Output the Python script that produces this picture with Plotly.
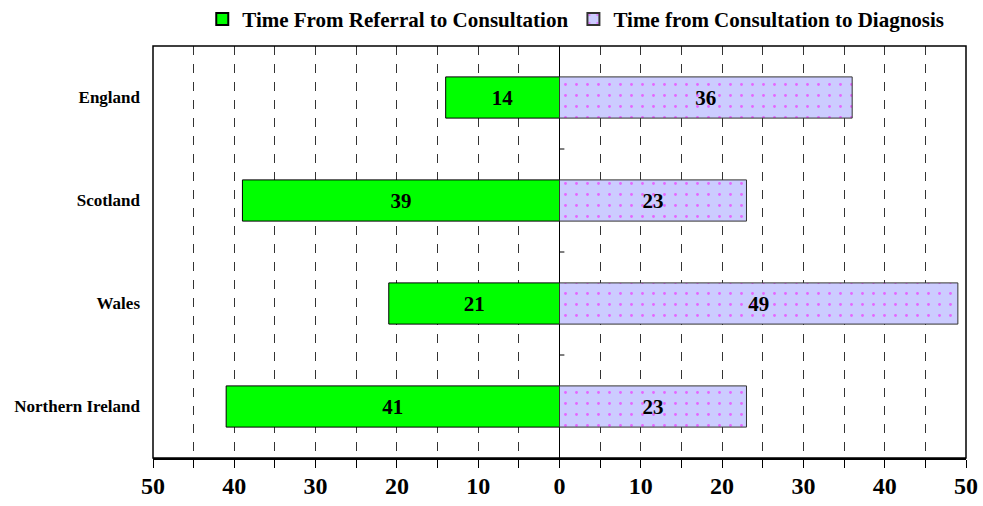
import plotly.graph_objects as go

countries = ["England", "Scotland", "Wales", "Northern Ireland"]
referral_to_consult = [14, 39, 21, 41]
consult_to_diagnosis = [36, 23, 49, 23]
tick_vals = [-50, -40, -30, -20, -10, 0, 10, 20, 30, 40, 50]
tick_text = ["50", "40", "30", "20", "10", "0", "10", "20", "30", "40", "50"]

serif = "Liberation Serif, Times New Roman, serif"

fig = go.Figure()

fig.add_trace(
    go.Bar(
        y=countries,
        x=[-v for v in referral_to_consult],
        name="Time From Referral to Consultation",
        orientation="h",
        marker={"color": "#00FF00", "line": {"color": "black", "width": 1}},
        text=[str(v) for v in referral_to_consult],
        textposition="inside",
        insidetextanchor="middle",
        textfont={"family": serif, "size": 21, "color": "black", "weight": "bold"},
        width=0.4,
    )
)

fig.add_trace(
    go.Bar(
        y=countries,
        x=consult_to_diagnosis,
        name="Time from Consultation to Diagnosis",
        orientation="h",
        marker={
            "color": "#CCCCFF",
            "line": {"color": "#333333", "width": 1},
            "pattern": {"shape": ".", "fgcolor": "#FF00FF", "bgcolor": "#CCCCFF",
                        "size": 11, "solidity": 0.05, "fillmode": "overlay"},
        },
        text=[str(v) for v in consult_to_diagnosis],
        textposition="inside",
        insidetextanchor="middle",
        textfont={"family": serif, "size": 21, "color": "black", "weight": "bold"},
        width=0.4,
    )
)

# small category separators on the zero line
for i in range(len(countries) - 1):
    fig.add_shape(type="line", xref="x", yref="y", x0=0, x1=0.6,
                  y0=i + 0.5, y1=i + 0.5, line={"color": "black", "width": 1})

# plot frame
fig.add_shape(type="rect", xref="paper", yref="paper", x0=0, x1=1, y0=0, y1=1,
              line={"color": "black", "width": 1.5}, layer="above")

fig.update_layout(
    width=983, height=506,
    barmode="relative",
    plot_bgcolor="white",
    paper_bgcolor="white",
    margin={"l": 153, "r": 17, "t": 46, "b": 48, "autoexpand": False},
    font={"family": serif, "color": "black"},
    showlegend=True,
    legend={
        "orientation": "h", "x": 0.52, "xanchor": "center", "y": 1.015, "yanchor": "bottom",
        "font": {"family": serif, "size": 21, "weight": "bold"},
        "bgcolor": "rgba(0,0,0,0)",
        "itemwidth": 30, "itemsizing": "constant", "tracegroupgap": 0,
    },
    xaxis={
        "range": [-50, 50],
        "tickvals": tick_vals,
        "ticktext": tick_text,
        "tickfont": {"family": serif, "size": 24, "weight": "bold"},
        "showgrid": True,
        "gridcolor": "#333333",
        "griddash": "dash",
        "gridwidth": 1,
        "ticks": "outside",
        "ticklen": 8,
        "tickcolor": "black",
        "ticklabelstandoff": -3,
        "minor": {"dtick": 5, "showgrid": True, "gridcolor": "#333333", "griddash": "dash",
                  "ticks": "outside", "ticklen": 8, "tickcolor": "black"},
        "zeroline": True,
        "zerolinecolor": "black",
        "zerolinewidth": 1,
        "showline": True,
        "linecolor": "black",
        "linewidth": 2,
        "automargin": False,
        "fixedrange": True,
    },
    yaxis={
        "autorange": "reversed",
        "tickfont": {"family": serif, "size": 17, "weight": "bold"},
        "showline": False,
        "ticks": "",
        "ticklabelstandoff": 12,
        "automargin": False,
        "fixedrange": True,
    },
)

# drop the default page margin so the figure fills the window exactly
fig.write_html(
    "out.html",
    config={"displayModeBar": False},
    post_script="document.body.style.margin = '0'; document.body.style.overflow = 'hidden';",
)
